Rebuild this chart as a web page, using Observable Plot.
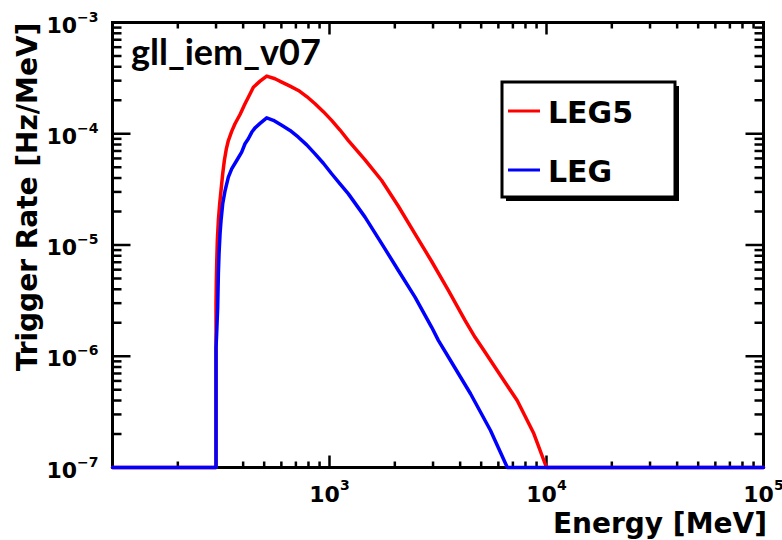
<!DOCTYPE html>
<html>
<head>
<meta charset="utf-8">
<script src="https://cdn.jsdelivr.net/npm/d3@7"></script>
<script src="https://cdn.jsdelivr.net/npm/@observablehq/plot@0.6"></script>
<style>
  html, body { margin: 0; padding: 0; background: #fff; }
</style>
</head>
<body>
<div id="chart"></div>
<script>
// ---- data ----
const seriesNames = ["LEG5", "LEG"];
const seriesColors = ["#ff0000", "#0000ff"];

const energyLEG5 = [100, 300, 300, 301, 302.1, 304.2, 307.5, 311.9, 316.3, 322, 327.7, 334.7, 341.9, 354.2, 366.9, 387, 408, 422.7, 445.8, 478.6, 513.6, 561, 602.3, 657.9, 718.8, 785.3, 857.8, 937, 1023, 1118, 1222, 1458, 1740, 2077, 2478, 2958, 3530, 4213, 4686, 5141, 6138, 7328, 8740, 10000, 100000];
const rateLEG5   = [1e-7, 1e-7, 2.96e-6, 4.8e-6, 6.78e-6, 1.10e-5, 1.66e-5, 2.35e-5, 3.09e-5, 4.37e-5, 5.75e-5, 7.32e-5, 8.69e-5, 1.05e-4, 1.23e-4, 1.49e-4, 1.86e-4, 2.13e-4, 2.62e-4, 2.97e-4, 3.30e-4, 3.12e-4, 2.91e-4, 2.68e-4, 2.45e-4, 2.16e-4, 1.86e-4, 1.58e-4, 1.32e-4, 1.08e-4, 8.69e-5, 5.83e-5, 3.80e-5, 2.23e-5, 1.26e-5, 7.11e-6, 3.90e-6, 2.10e-6, 1.48e-6, 1.13e-6, 6.71e-7, 4.00e-7, 2.02e-7, 1e-7, 1e-7];

const energyLEG = [100, 300, 300, 302, 305.3, 307.5, 309.7, 313, 316.3, 322, 330.3, 341.9, 354.2, 373.6, 393.8, 408, 422.7, 438, 453.8, 478.6, 513.6, 551.2, 602.3, 657.9, 718.8, 785.3, 857.8, 937, 1023, 1118, 1222, 1458, 1740, 2077, 2478, 2958, 3174, 3611, 4466, 5521, 6600, 100000];
const rateLEG   = [1e-7, 1e-7, 1.2e-6, 1.6e-6, 2.76e-6, 5.5e-6, 8.34e-6, 1.26e-5, 1.66e-5, 2.35e-5, 3.09e-5, 4.07e-5, 4.84e-5, 5.75e-5, 6.83e-5, 8.13e-5, 9.01e-5, 1.03e-4, 1.13e-4, 1.24e-4, 1.39e-4, 1.32e-4, 1.19e-4, 1.07e-4, 9.31e-5, 7.95e-5, 6.6e-5, 5.43e-5, 4.37e-5, 3.55e-5, 2.88e-5, 1.78e-5, 1.03e-5, 5.9e-6, 3.4e-6, 1.82e-6, 1.39e-6, 9.16e-7, 4.6e-7, 2.15e-7, 1e-7, 1e-7];

const xTickValues = [1e3, 1e4, 1e5];
const xTickLabels = ["10^3", "10^4", "10^5"];
const yTickValues = [1e-7, 1e-6, 1e-5, 1e-4, 1e-3];
const yTickLabels = ["10^-7", "10^-6", "10^-5", "10^-4", "10^-3"];

const titleText = "gll_iem_v07";
const xLabel = "Energy [MeV]";
const yLabel = "Trigger Rate [Hz/MeV]";

// major / minor tick positions
const xMajor = [1e2, 1e3, 1e4, 1e5];
const xMinor = [];
for (const d of [1e2, 1e3, 1e4]) for (let k = 2; k <= 9; k++) xMinor.push(k * d);
const yMajor = yTickValues;
const yMinor = [];
for (const d of [1e-7, 1e-6, 1e-5, 1e-4]) for (let k = 2; k <= 9; k++) yMinor.push(k * d);

const rows = (E, R, name) => E.map((e, i) => ({energy: e, rate: R[i], series: name}));
const dataLEG5 = rows(energyLEG5, rateLEG5, seriesNames[0]);
const dataLEG = rows(energyLEG, rateLEG, seriesNames[1]);

const W = 782, H = 540;
const mL = 112, mR = 19, mT = 22, mB = 73;
const FONT = "DejaVu Sans";

// tick segments (inward, on all four sides) expressed in data space so the
// plot's own log scales place them; lengths given in pixels
const xDom = [1e2, 1e5], yDom = [1e-7, 1e-3];
const pxPerDecX = (W - mL - mR) / Math.log10(xDom[1] / xDom[0]);
const pxPerDecY = (H - mT - mB) / Math.log10(yDom[1] / yDom[0]);
const tickSegs = [];
let tid = 0;
const addX = (vals, len) => vals.forEach(v => {
  const f = Math.pow(10, len / pxPerDecY);
  tid++; tickSegs.push({x: v, y: yDom[0], id: tid}, {x: v, y: yDom[0] * f, id: tid});
  tid++; tickSegs.push({x: v, y: yDom[1], id: tid}, {x: v, y: yDom[1] / f, id: tid});
});
const addY = (vals, len) => vals.forEach(v => {
  const f = Math.pow(10, len / pxPerDecX);
  tid++; tickSegs.push({x: xDom[0], y: v, id: tid}, {x: xDom[0] * f, y: v, id: tid});
  tid++; tickSegs.push({x: xDom[1], y: v, id: tid}, {x: xDom[1] / f, y: v, id: tid});
});
addX(xMajor, 12); addX(xMinor, 6);
addY(yMajor, 18); addY(yMinor, 9);

const fmt = (vals, labels) => d => {
  const i = vals.findIndex(v => Math.abs(Math.log10(v) - Math.log10(d)) < 1e-6);
  return i >= 0 ? labels[i] : "";
};

const chart = Plot.plot({
  width: W, height: H, marginLeft: mL, marginRight: mR, marginTop: mT, marginBottom: mB,
  style: {fontFamily: FONT, fontWeight: "bold", background: "white", color: "black"},
  x: {type: "log", domain: xDom},
  y: {type: "log", domain: yDom},
  marks: [
    Plot.frame({stroke: "black", strokeWidth: 3}),
    // tick marks
    Plot.line(tickSegs, {x: "x", y: "y", z: "id", stroke: "black", strokeWidth: 2.5, strokeLinecap: "butt"}),
    // tick labels
    Plot.axisX({anchor: "bottom", ticks: xTickValues, tickSize: 0, tickPadding: 19, tickFormat: fmt(xTickValues, xTickLabels), fontSize: 22, label: null}),
    Plot.axisY({anchor: "left", ticks: yTickValues, tickSize: 0, tickPadding: 14, tickFormat: fmt(yTickValues, yTickLabels), fontSize: 22, dy: 3, label: null}),
    // series
    Plot.line(dataLEG5, {x: "energy", y: "rate", stroke: seriesColors[0], strokeWidth: 3.5}),
    Plot.line(dataLEG, {x: "energy", y: "rate", stroke: seriesColors[1], strokeWidth: 3.5})
  ]
});

document.getElementById("chart").appendChild(chart);

// superscript exponents in tick labels
const SVGNS = "http://www.w3.org/2000/svg";
chart.querySelectorAll('g[aria-label="x-axis tick label"] text, g[aria-label="y-axis tick label"] text').forEach(t => {
  const s = t.textContent;
  if (!s.includes("^")) return;
  const [b, e] = s.split("^");
  const isY = t.closest('g[aria-label="y-axis tick label"]') !== null;
  t.textContent = b;
  const ts = document.createElementNS(SVGNS, "tspan");
  ts.setAttribute("dy", isY ? -11 : -12);
  ts.setAttribute("font-size", 14);
  ts.textContent = e.replace("-", "\u2212");
  t.appendChild(ts);
});

const svg = d3.select(chart);

// title
svg.append("text")
  .attr("x", 131).attr("y", 65)
  .attr("text-anchor", "start")
  .attr("font-family", "Lato").attr("font-weight", "bold").attr("font-size", 36)
  .attr("fill", "black")
  .text(titleText);

// axis titles
svg.append("text")
  .attr("x", 767).attr("y", 533)
  .attr("text-anchor", "end")
  .attr("font-family", FONT).attr("font-weight", "bold").attr("font-size", 28)
  .attr("fill", "black")
  .text(xLabel);

svg.append("text")
  .attr("transform", "translate(37,197) rotate(-90)")
  .attr("text-anchor", "middle")
  .attr("font-family", FONT).attr("font-weight", "bold").attr("font-size", 28)
  .attr("fill", "black")
  .text(yLabel);

// legend box with shadow
const lg = svg.append("g");
lg.append("rect").attr("x", 506).attr("y", 86).attr("width", 173).attr("height", 115).attr("fill", "black");
lg.append("rect").attr("x", 502).attr("y", 82).attr("width", 173).attr("height", 115)
  .attr("fill", "white").attr("stroke", "black").attr("stroke-width", 3);
const entryY = [111, 170];
seriesNames.forEach((name, i) => {
  lg.append("line").attr("x1", 508).attr("x2", 540).attr("y1", entryY[i]).attr("y2", entryY[i])
    .attr("stroke", seriesColors[i]).attr("stroke-width", 3);
  lg.append("text").attr("x", 548).attr("y", entryY[i] + 12)
    .attr("text-anchor", "start")
    .attr("font-family", FONT).attr("font-weight", "bold").attr("font-size", 30)
    .attr("fill", "black").text(name);
});
</script>
</body>
</html>
